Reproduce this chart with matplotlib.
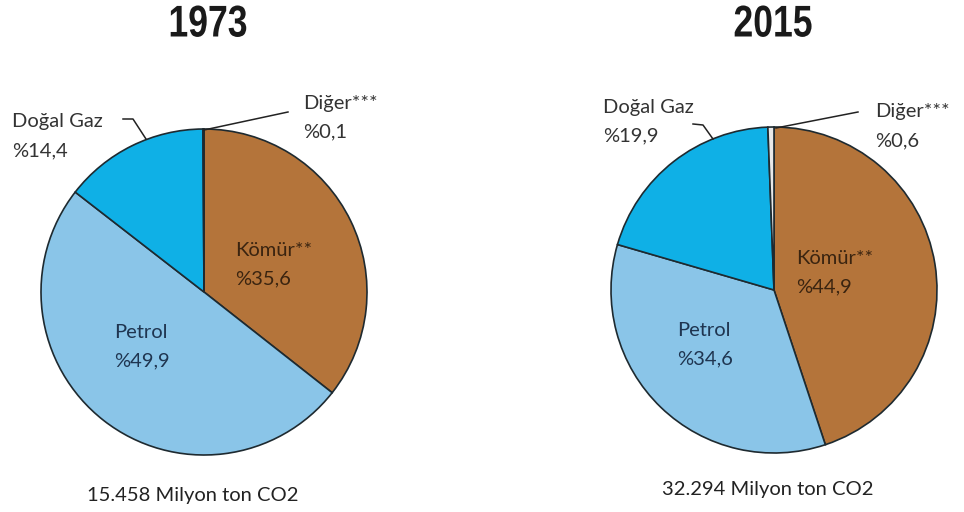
import matplotlib.pyplot as plt
from matplotlib.patheffects import AbstractPathEffect
from matplotlib.transforms import Affine2D

# Data
years = ['1973', '2015']
sources = ['Kömür**', 'Petrol', 'Doğal Gaz', 'Diğer***']
shares_1973 = [35.6, 49.9, 14.4, 0.1]
shares_2015 = [44.9, 34.6, 19.9, 0.6]
totals = ['15.458 Milyon ton CO2', '32.294 Milyon ton CO2']

colors = ['#B4743A', '#8AC5E8', '#0FB0E6', '#E8E8E8']
text_colors = ['#3A2410', '#1F3550', '#333333', '#333333']

W, H = 964, 512
DPI = 100
fig = plt.figure(figsize=(W / DPI, H / DPI), dpi=DPI)
ax = fig.add_axes([0, 0, 1, 1])

font = ['Lato', 'DejaVu Sans']
fs = 14.5


class Narrow(AbstractPathEffect):
    """squeeze the glyphs horizontally around a display x position"""
    def __init__(self, cx, sx):
        super().__init__()
        self.cx = cx
        self.sx = sx

    def draw_path(self, renderer, gc, tpath, affine, rgbFace=None):
        squeeze = Affine2D().translate(-self.cx, 0).scale(self.sx, 1).translate(self.cx, 0)
        renderer.draw_path(gc, tpath, affine + squeeze, rgbFace)


def fmt(v):
    return '%' + ('%.1f' % v).replace('.', ',')


# pixel layout (x, y from top)
centers = [(204, 292), (774, 290)]
radius = 163
title_x = [208, 773]
total_pos = [(193, 495), (768, 490)]
# label anchor positions: Kömür, Petrol, Doğal Gaz, Diğer
label_pos = [
    [(235, 250), (114, 332), (12, 122), (303, 103)],
    [(796, 258), (677, 330), (603, 107), (875, 112)],
]
gaz_leader = [[(123, 119), (133, 119), (146, 139)],
              [(693, 124), (703, 125), (713, 139)]]
diger_leader = [[(204, 130), (288, 112)],
                [(776, 128), (858, 112)]]

for i, shares in enumerate([shares_1973, shares_2015]):
    cx, cy = centers[i]
    ax.pie(shares, colors=colors, startangle=90, counterclock=False,
           center=(cx, H - cy), radius=radius,
           wedgeprops=dict(edgecolor='#1E2A30', linewidth=1.2))

    # axes spans the whole figure with 1 data unit = 1 pixel
    ax.text(title_x[i], H - 25, years[i], ha='center', va='center',
            fontsize=32, fontweight='bold', color='#1a1a1a',
            family=['Liberation Sans', 'DejaVu Sans'],
            path_effects=[Narrow(title_x[i], 0.8)])

    for j, name in enumerate(sources):
        lx, ly = label_pos[i][j]
        ax.text(lx, H - ly, name, ha='left', va='center', fontsize=fs,
                color=text_colors[j], family=font)
        ax.text(lx, H - ly - 29, fmt(shares[j]), ha='left', va='center',
                fontsize=fs, color=text_colors[j], family=font)

    xs, ys = zip(*gaz_leader[i])
    ax.plot(xs, [H - y for y in ys], color='#222222', lw=1.1)
    xs, ys = zip(*diger_leader[i])
    ax.plot(xs, [H - y for y in ys], color='#222222', lw=1.1)

    tx, ty = total_pos[i]
    ax.text(tx, H - ty, totals[i], ha='center', va='center', fontsize=fs,
            color='#222222', family=font)

ax.set_xlim(0, W)
ax.set_ylim(0, H)
ax.set_aspect('equal')
ax.axis('off')

fig.savefig('out.png', dpi=DPI)
